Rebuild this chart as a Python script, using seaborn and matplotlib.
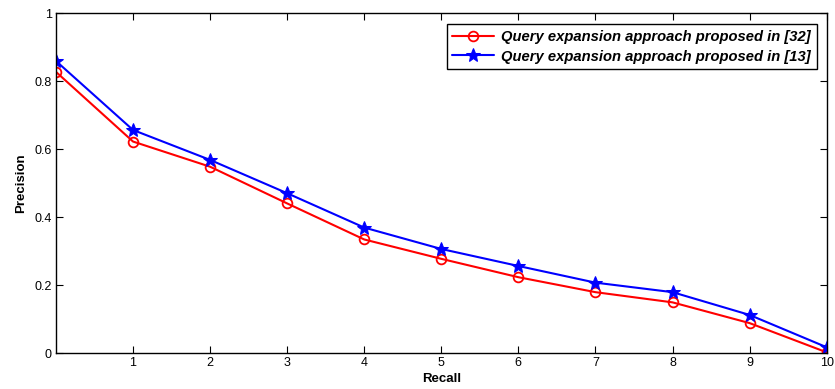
import numpy as np
import pandas as pd
import matplotlib
matplotlib.use('Agg')
import matplotlib.pyplot as plt
import seaborn as sns

# data
recall = [0, 1, 2, 3, 4, 5, 6, 7, 8, 9, 10]
prec_32 = [0.827, 0.622, 0.548, 0.440, 0.334, 0.277, 0.223, 0.179, 0.149, 0.088, 0.002]
prec_13 = [0.859, 0.656, 0.568, 0.470, 0.369, 0.306, 0.256, 0.207, 0.179, 0.112, 0.017]
label_32 = 'Query expansion approach proposed in [32]'
label_13 = 'Query expansion approach proposed in [13]'

sns.set_style('ticks')
plt.rcParams['font.family'] = ['Liberation Sans', 'DejaVu Sans']
plt.rcParams['text.color'] = 'black'
plt.rcParams['axes.labelcolor'] = 'black'

df_32 = pd.DataFrame({'Recall': recall, 'Precision': prec_32})
df_13 = pd.DataFrame({'Recall': recall, 'Precision': prec_13})

fig = plt.figure(figsize=(8.35, 3.89), dpi=100)
ax = fig.add_axes([0.067, 0.0925, 0.923, 0.874])

sns.lineplot(data=df_32, x='Recall', y='Precision', ax=ax, color='red',
             marker='o', markersize=7, mfc='none', mec='red', mew=1.3,
             linewidth=1.5, label=label_32)
sns.lineplot(data=df_13, x='Recall', y='Precision', ax=ax, color='blue',
             marker='*', markersize=10, mfc='blue', mec='blue',
             linewidth=1.5, label=label_13)

ax.set_xlim(0, 10)
ax.set_ylim(0, 1)
ax.set_xticks(range(1, 11))
ax.set_yticks([0, 0.2, 0.4, 0.6, 0.8, 1])
ax.set_yticklabels(['0', '0.2', '0.4', '0.6', '0.8', '1'])
ax.tick_params(direction='in', top=True, right=True, length=5, width=0.8,
               labelsize=9, colors='black', pad=3)
for s in ax.spines.values():
    s.set_visible(True)
    s.set_linewidth(1.0)
    s.set_color('black')

ax.set_xlabel('Recall', fontsize=9.5, fontweight='bold', labelpad=3)
ax.set_ylabel('Precision', fontsize=9.5, fontweight='bold', labelpad=5)

leg = ax.legend(loc='upper right', bbox_to_anchor=(0.9965, 0.988),
                prop={'size': 10.6, 'weight': 'bold', 'style': 'italic'},
                fancybox=False, framealpha=1, edgecolor='black',
                handlelength=2.8, borderpad=0.4, labelspacing=0.35,
                handletextpad=0.5, borderaxespad=0.5)
leg.get_frame().set_linewidth(1.0)

fig.savefig('out.png', dpi=100)
